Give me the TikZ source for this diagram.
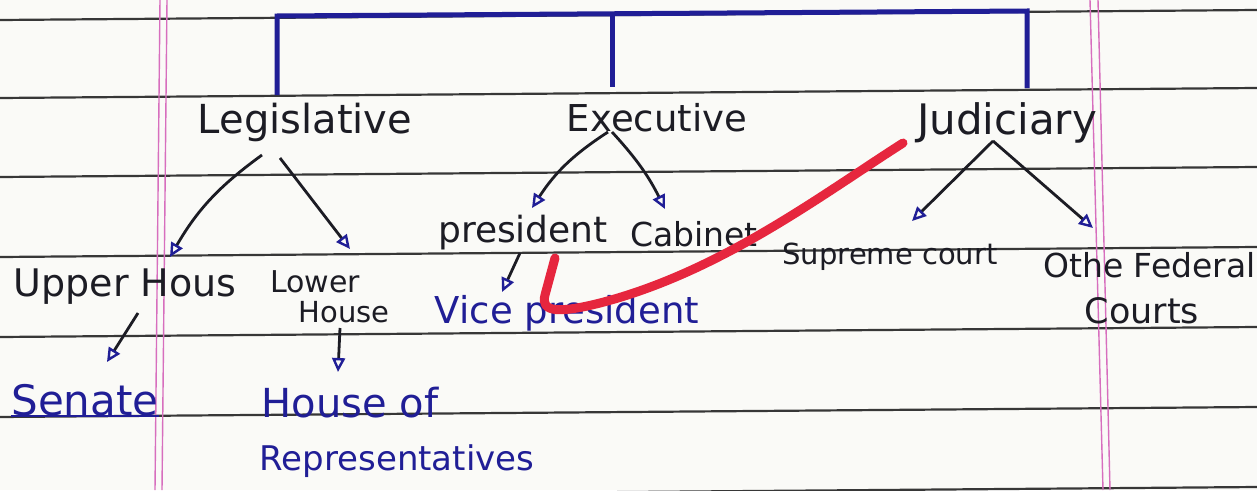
\documentclass[tikz,border=0pt]{standalone}
\usepackage{fontspec}
\setmainfont{DejaVu Sans}
\usetikzlibrary{arrows.meta,calc}

\definecolor{ink}{RGB}{28,28,36}
\definecolor{blueink}{RGB}{32,30,150}
\definecolor{ruleline}{RGB}{55,55,55}
\definecolor{marginline}{RGB}{215,110,190}
\definecolor{redmark}{RGB}{230,38,62}
\definecolor{paper}{RGB}{250,250,247}

\newcommand{\fs}[1]{\fontsize{#1}{#1}\selectfont}

\tikzset{
  hand/.style={text=ink, font=\fs{32}, inner sep=0pt},
  bluehand/.style={hand, text=blueink},
  branch/.style={draw=ink, line width=2.8pt,
    -{Triangle[open, color=blueink, length=14pt, width=13pt, line width=2.4pt]}},
  bracket/.style={draw=blueink, line width=5pt},
}

\begin{document}
\begin{tikzpicture}[x=1pt,y=-1pt]
\fill[paper] (0,0) rectangle (1257,490);
\useasboundingbox (0,0) rectangle (1257,490);

% ruled paper
\foreach \y in {20,98,177,257,337,417,497}
  \draw[ruleline, line width=2.2pt] (0,\y) -- (1257,\y-10);
\draw[marginline, line width=1.4pt] (160,0) -- (155,490);
\draw[marginline, line width=1.4pt] (167,0) -- (162,490);
\draw[marginline, line width=1.4pt] (1090,0) -- (1103,490);
\draw[marginline, line width=1.4pt] (1098,0) -- (1110,490);

% top bracket
\coordinate (bl) at (277,95);
\coordinate (bm) at (612,87);
\coordinate (br) at (1027,88);
\draw[bracket] (bl) -- (277,16) -- (1027,11) -- (br);
\draw[bracket] (612,14) -- (bm);

% branches
\node[hand, font=\fs{40}] (leg) at (305,122) {Legislative};
\node[hand, font=\fs{37}] (exe) at (657,118) {Executive};
\node[hand, font=\fs{42}] (jud) at (1007,123) {Judiciary};

\node[hand, font=\fs{38}] (upper) at (125,287) {Upper Hous};
\node[hand, font=\fs{30}] (lower) at (315,282) {Lower};
\node[hand, font=\fs{29}] (house) at (344,312) {House};
\node[hand, font=\fs{36}] (pres) at (523,233) {president};
\node[hand, font=\fs{33}] (cab) at (694,234) {Cabinet};
\node[hand, font=\fs{29}] (sup) at (890,257) {Supreme court};
\node[hand, font=\fs{33}, anchor=west] (fed) at (1043,265) {Othe Federal};
\node[hand, font=\fs{35}] (courts) at (1142,311) {Courts};

\node[bluehand, font=\fs{37}] (vp) at (567,313) {Vice president};
\node[bluehand, font=\fs{42}] (senate) at (85,400) {Senate};
\node[bluehand, font=\fs{40}] (hof) at (350,403) {House of};
\node[bluehand, font=\fs{34}] (reps) at (397,461) {Representatives};
\coordinate (ul) at (0,416);
\draw[blueink, line width=2.4pt] (senate.west |- ul) -- (senate.east |- ul);

% arrows
\draw[branch] ($(leg)+(-43,33)$) to[bend right=12] ($(upper)+(45,-30)$);
\draw[branch] ($(leg)+(-25,36)$) -- ($(lower)+(35,-33)$);
\draw[branch] ($(exe)+(-49,14)$) to[bend right=12] ($(pres)+(9,-25)$);
\draw[branch] ($(exe)+(-45,14)$) to[bend left=8] ($(cab)+(-29,-25)$);
\draw[branch] ($(jud)+(-14,18)$) -- ($(sup)+(22,-36)$);
\draw[branch] ($(jud)+(-14,18)$) -- ($(fed.west)+(50,-37)$);
\draw[branch] ($(upper)+(13,26)$) -- ($(senate)+(22,-38)$);
\draw[branch] ($(house)+(-4,16)$) -- ($(hof)+(-12,-31)$);
\draw[branch] ($(pres)+(-3,20)$) -- ($(vp)+(-65,-21)$);

% red tick
\draw[redmark, line width=9pt, line cap=round, line join=round]
  (555,258) -- (545,295) .. controls (540,313) and (560,313) .. (600,303)
  .. controls (720,272) and (820,196) .. (903,143);
\end{tikzpicture}
\end{document}
